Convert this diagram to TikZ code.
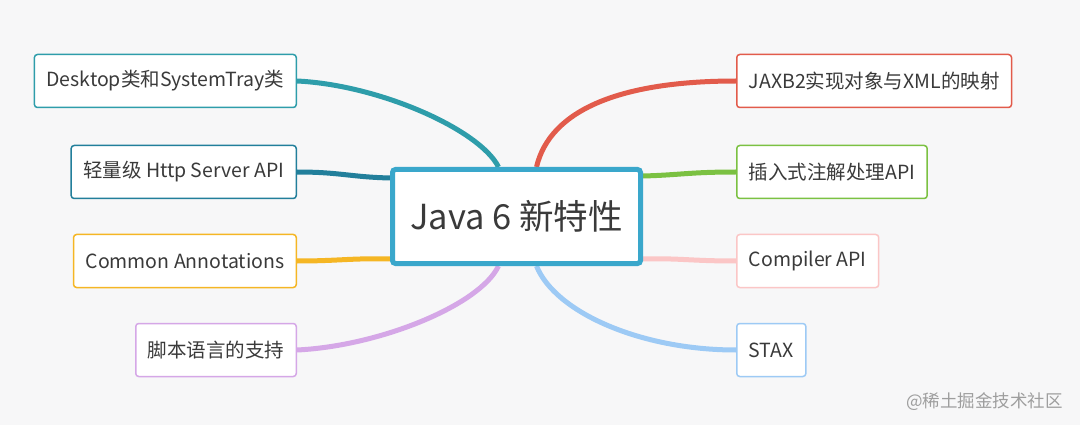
\documentclass[tikz,border=0pt]{standalone}
\usepackage{fontspec}
\setmainfont{Noto Sans CJK SC}
\usetikzlibrary{backgrounds}

\definecolor{pagebg}{HTML}{F7F7F8}
\definecolor{ink}{HTML}{3A3A3A}
\definecolor{rootblue}{HTML}{3AA7CB}
\definecolor{cteal}{HTML}{2E9DAA}
\definecolor{cpetrol}{HTML}{227F9B}
\definecolor{corange}{HTML}{F5B624}
\definecolor{cpurple}{HTML}{D5A7E7}
\definecolor{cred}{HTML}{E25B4B}
\definecolor{cgreen}{HTML}{7BC142}
\definecolor{cpink}{HTML}{FBC6C6}
\definecolor{csky}{HTML}{9DCAF5}

\begin{document}
\begin{tikzpicture}[x=1pt,y=-1pt,
  root/.style={draw=rootblue,line width=5pt,fill=white,rounded corners=3pt,
    minimum width=248pt,minimum height=94pt,text=ink,font=\fontsize{34.5}{40}\selectfont},
  leaf/.style={draw=#1,line width=1.5pt,fill=white,rounded corners=3pt,
    minimum height=53pt,inner xsep=12pt,text=ink,font=\fontsize{19.5}{23}\selectfont},
  link/.style={draw=#1,line width=5pt}]
  \useasboundingbox (0,0) rectangle (1080,425);

  \node[root] (java) at (516.5,216.5) {Java 6 新特性};

  % left branches
  \node[leaf=cteal,anchor=east] (desk) at (297,81) {Desktop类和SystemTray类};
  \node[leaf=cpetrol,anchor=east] (http) at (297,172) {轻量级 Http Server API};
  \node[leaf=corange,anchor=east] (anno) at (297,261) {Common Annotations};
  \node[leaf=cpurple,anchor=east] (script) at (297,350) {脚本语言的支持};

  % right branches
  \node[leaf=cred,anchor=west] (jaxb) at (736,81) {JAXB2实现对象与XML的映射};
  \node[leaf=cgreen,anchor=west] (plug) at (736,172) {插入式注解处理API};
  \node[leaf=cpink,anchor=west] (comp) at (736,261) {Compiler API};
  \node[leaf=csky,anchor=west] (stax) at (736,350) {STAX};

  \node[anchor=east,inner sep=0pt,text=black!38,font=\fontsize{17.5}{20}\selectfont] (mark) at (1063,402) {@稀土掘金技术社区};

  \begin{scope}[on background layer]
    \fill[pagebg] (0,0) rectangle (1080,425);
    \draw[link=cteal] (desk.east) .. controls (380,85) and (480,130) .. ([xshift=-18pt]java.north);
    \draw[link=cpetrol] (http.east) .. controls (340,172) and (350,177) .. ([yshift=38.5pt]java.west);
    \draw[link=corange] (anno.east) .. controls (340,261) and (350,258) .. ([yshift=-42.5pt]java.west);
    \draw[link=cpurple] (script.east) .. controls (380,346) and (480,305) .. ([xshift=-18pt]java.south);
    \draw[link=cred] (jaxb.west) .. controls (620,81) and (550,110) .. ([xshift=20pt]java.north);
    \draw[link=cgreen] (plug.west) .. controls (690,172) and (680,175) .. ([yshift=40.5pt]java.east);
    \draw[link=cpink] (comp.west) .. controls (690,261) and (680,258) .. ([yshift=-42.5pt]java.east);
    \draw[link=csky] (stax.west) .. controls (640,350) and (555,312) .. ([xshift=20pt]java.south);
  \end{scope}
\end{tikzpicture}
\end{document}
